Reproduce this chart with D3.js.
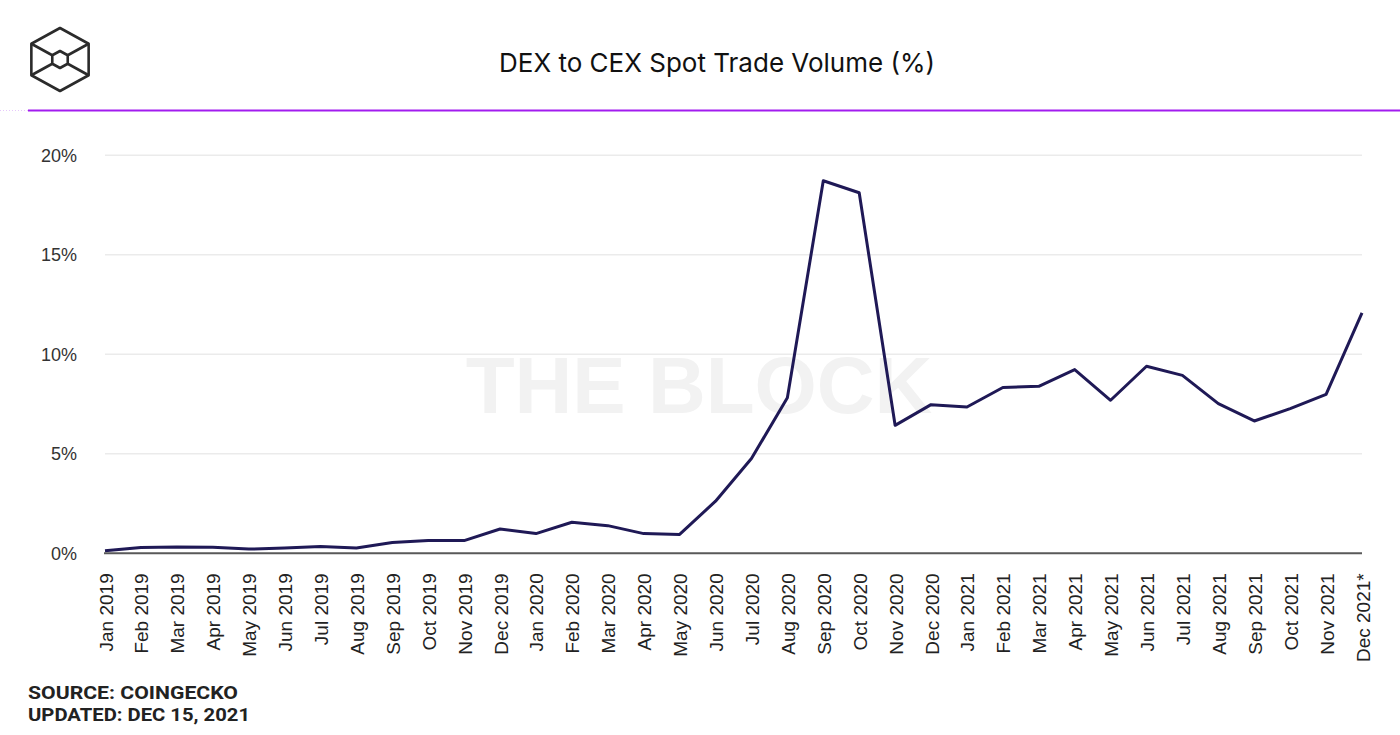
<!DOCTYPE html>
<html>
<head>
<meta charset="utf-8">
<script src="https://cdn.jsdelivr.net/npm/d3@7/dist/d3.min.js"></script>
<style>
  html, body { margin: 0; padding: 0; background: #fff; }
  svg { display: block; }
</style>
</head>
<body>
<svg id="chart" width="1400" height="735"></svg>
<script>
// ---- data ----
const months = ["Jan 2019","Feb 2019","Mar 2019","Apr 2019","May 2019","Jun 2019","Jul 2019","Aug 2019","Sep 2019","Oct 2019","Nov 2019","Dec 2019",
  "Jan 2020","Feb 2020","Mar 2020","Apr 2020","May 2020","Jun 2020","Jul 2020","Aug 2020","Sep 2020","Oct 2020","Nov 2020","Dec 2020",
  "Jan 2021","Feb 2021","Mar 2021","Apr 2021","May 2021","Jun 2021","Jul 2021","Aug 2021","Sep 2021","Oct 2021","Nov 2021","Dec 2021*"];
const dexShare = [0.13,0.29,0.32,0.30,0.21,0.27,0.34,0.27,0.54,0.64,0.64,1.22,
  0.99,1.56,1.39,0.99,0.95,2.62,4.76,7.82,18.72,18.12,6.43,7.47,
  7.35,8.33,8.39,9.23,7.69,9.40,8.94,7.52,6.65,7.27,7.99,12.08];
const yTicks = [0,5,10,15,20];
const title = "DEX to CEX Spot Trade Volume (%)";
const sourceLines = ["SOURCE: COINGECKO","UPDATED: DEC 15, 2021"];

// ---- layout ----
const svg = d3.select("#chart");
const x = d3.scalePoint().domain(months).range([105, 1362]);
const y = d3.scaleLinear().domain([0, 20]).range([553.3, 155.3]);

// logo
const logo = svg.append("g").attr("fill","none").attr("stroke","#2b2b2b").attr("stroke-width",2.6).attr("stroke-linejoin","round");
const cx = 60, cy = 59.5, R = 31.5, r = 8.5;
const hex = (rad) => d3.range(6).map(i => { const a = Math.PI/180*(-90 + 60*i); return [cx + rad*Math.cos(a)*1.05, cy + rad*Math.sin(a)]; });
const outer = hex(R), inner = hex(r);
logo.append("path").attr("d", d3.line()(outer) + "Z");
logo.append("path").attr("d", d3.line()(inner) + "Z");
[[5,5],[1,1],[2,2],[4,4]].forEach(([o,i]) => {
  logo.append("line").attr("x1", outer[o][0]).attr("y1", outer[o][1]).attr("x2", inner[i][0]).attr("y2", inner[i][1]);
});

// title
svg.append("text").attr("x", 717).attr("y", 72).attr("text-anchor","middle")
  .attr("font-family","Inter, 'Open Sans', sans-serif").attr("font-size", 26).attr("fill","#111")
  .text(title);

// purple rule
svg.append("line").attr("x1", 0).attr("x2", 28).attr("y1", 110.5).attr("y2", 110.5)
  .attr("stroke","#e6c8fb").attr("stroke-width",1).attr("stroke-dasharray","1,2");
svg.append("line").attr("x1", 28).attr("x2", 1400).attr("y1", 110.5).attr("y2", 110.5)
  .attr("stroke","#a21cef").attr("stroke-width",2);

// watermark
svg.append("text").attr("x", 699).attr("y", 413).attr("text-anchor","middle")
  .attr("font-family","'Liberation Sans', Arial, sans-serif").attr("font-weight","bold")
  .attr("font-size", 80).attr("fill","#f2f2f2").text("THE BLOCK");

// gridlines
svg.append("g").selectAll("line").data(yTicks.filter(d => d > 0)).join("line")
  .attr("x1", 105).attr("x2", 1362)
  .attr("y1", d => y(d)).attr("y2", d => y(d))
  .attr("stroke","#ebebeb").attr("stroke-width",1.5);

// y axis labels
const yAxis = d3.axisLeft(y).tickValues(yTicks).tickFormat(d => d + "%").tickSize(0).tickPadding(0);
const yg = svg.append("g").attr("transform","translate(77,0)").call(yAxis);
yg.select(".domain").remove();
yg.selectAll("text").attr("font-family","'Liberation Sans', Arial, sans-serif").attr("font-size",18).attr("fill","#333");

// line
svg.append("path").datum(dexShare)
  .attr("d", d3.line().x((d,i) => x(months[i])).y(d => y(d)))
  .attr("fill","none").attr("stroke","#1f1956").attr("stroke-width",3).attr("stroke-linejoin","round");

// baseline
svg.append("line").attr("x1", 104).attr("x2", 1362).attr("y1", y(0)).attr("y2", y(0))
  .attr("stroke","#595959").attr("stroke-width",2);

// x axis labels
const xAxis = d3.axisBottom(x).tickSize(0).tickPadding(0);
const xg = svg.append("g").attr("transform", `translate(0,${y(0)})`).call(xAxis);
xg.select(".domain").remove();
xg.selectAll("text")
  .attr("font-family","'Liberation Sans', Arial, sans-serif").attr("font-size",19).attr("fill","#222")
  .attr("text-anchor","end").attr("dy", null).attr("y", 0)
  .attr("transform","translate(7,20) rotate(-90)");

// source
svg.append("g").selectAll("text").data(sourceLines).join("text")
  .attr("x", 28).attr("y", (d,i) => 699 + i*21.5)
  .attr("font-family","Roboto, 'Liberation Sans', sans-serif").attr("font-weight","bold")
  .attr("font-size",18).attr("fill","#222")
  .attr("textLength", (d,i) => i === 0 ? 210 : 222).attr("lengthAdjust","spacingAndGlyphs")
  .text(d => d);
</script>
</body>
</html>
